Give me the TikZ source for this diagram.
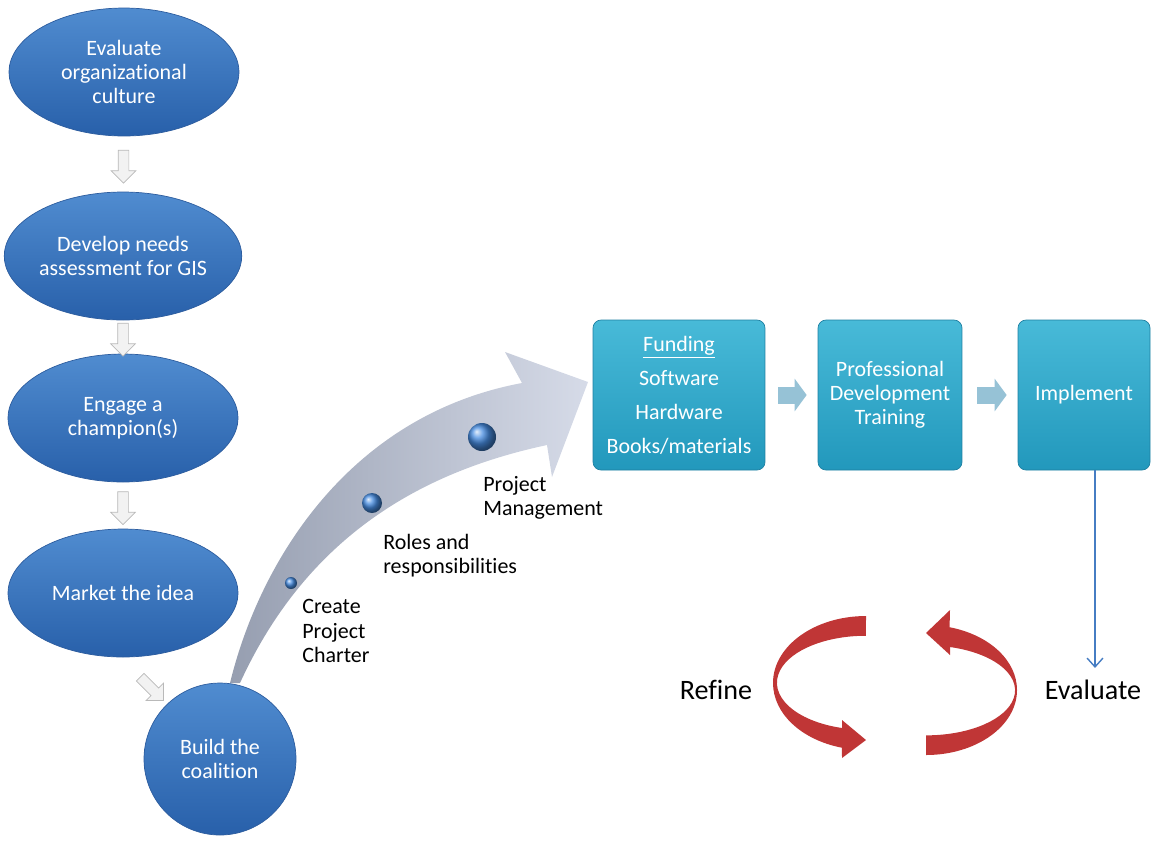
\documentclass[tikz,border=0pt]{standalone}
\usepackage{fontspec}
\setmainfont{Carlito}[Ligatures=NoCommon]
\usetikzlibrary{shapes.geometric,shapes.arrows,arrows.meta}

\definecolor{ovaltop}{RGB}{80,140,208}
\definecolor{ovalbot}{RGB}{40,96,170}
\definecolor{ovaledge}{RGB}{44,92,158}
\definecolor{boxtop}{RGB}{72,186,216}
\definecolor{boxbot}{RGB}{34,152,188}
\definecolor{boxedge}{RGB}{30,128,162}
\definecolor{stepblue}{RGB}{150,194,214}
\definecolor{arrowdark}{RGB}{150,158,176}
\definecolor{arrowlight}{RGB}{214,219,232}
\definecolor{dotblue}{RGB}{70,140,225}
\definecolor{ribbonred}{RGB}{192,54,54}
\definecolor{evalblue}{RGB}{70,125,195}

\tikzset{
  oval/.style={ellipse, top color=ovaltop, bottom color=ovalbot, draw=ovaledge,
    text=white, align=center, inner sep=0pt, minimum width=4.6cm, minimum height=2.56cm,
    font=\fontsize{12.5}{13.7}\selectfont},
  coal/.style={oval, circle, minimum size=3.04cm},
  downarr/.style={single arrow, draw=gray!55, fill=gray!10, minimum height=0.66cm,
    inner sep=0.1cm, single arrow head extend=0.14cm, rotate=-90},
  tealbox/.style={rectangle, rounded corners=0.16cm, top color=boxtop, bottom color=boxbot,
    draw=boxedge, text=white, align=center, minimum height=3cm,
    font=\fontsize{12.5}{13.7}\selectfont},
  boxarrow/.style={draw=stepblue, line width=0.34cm, -{Triangle[length=0.24cm, width=0.64cm]}},
  dot/.style={circle, shading=ball, ball color=dotblue, inner sep=0pt},
  lbl/.style={align=left, inner sep=0pt, anchor=west, font=\fontsize{12.5}{13.7}\selectfont},
  big/.style={font=\fontsize{16}{19}\selectfont},
  ribbon/.style={fill=ribbonred},
  evalarrow/.style={draw=evalblue, line width=0.8pt, -{Straight Barb[length=5pt, width=9pt]}}
}

\begin{document}
\begin{tikzpicture}[x=0.02cm, y=0.02cm]
\useasboundingbox (0,0) rectangle (1155,-840);

% curved arrow from the coalition to the funding box
\shade[left color=arrowdark, right color=arrowlight] (230,-683) .. controls (260,-560) and (350,-415) .. (522,-383)
  -- (505,-352) -- (588,-382) -- (552,-477) -- (547,-445)
  .. controls (430,-470) and (310,-530) .. (240,-683) -- cycle;

\node[dot, minimum size=0.24cm] (d1) at (291,-583) {};
\node[dot, minimum size=0.40cm] (d2) at (372,-503) {};
\node[dot, minimum size=0.56cm] (d3) at (482,-437) {};

% left column
\node[oval] (cult) at (124,-72) {Evaluate\\organizational\\culture};
\node[oval] (need) at (123,-256) {Develop needs\\assessment for GIS};
\node[oval] (champ) at (123,-418) {Engage a\\champion(s)};
\node[oval] (market) at (123,-593) {Market the idea};
\node[coal] (coal) at (220,-759) {Build the\\coalition};

\path (cult) -- (need) node[midway, downarr] (a1) {};
\path (need) -- (champ) node[midway, downarr] (a2) {};
\path (champ) -- (market) node[midway, downarr] (a3) {};
\node[downarr, rotate=45] (a4) at (150,-687) {}; %market-coal

% labels on the curved arrow
\node[lbl] (charter) at (302,-631) {Create\\Project\\Charter};
\node[lbl] (roles) at (383,-555.5) {Roles and\\responsibilities};
\node[lbl] (pm) at (483,-497.5) {Project\\Management};

% boxes
\node[tealbox, minimum width=3.44cm, font=\fontsize{12.5}{19.35}\selectfont] (fund) at (679,-395)
  {\underline{Funding}\\Software\\Hardware\\Books/materials};
\node[tealbox, minimum width=2.88cm] (prof) at (890,-395) {Professional\\Development\\Training};
\node[tealbox, minimum width=2.64cm] (impl) at (1084,-395) {Implement};

\draw[boxarrow] ([xshift=0.26cm]fund.east) -- ([xshift=-0.22cm]prof.west);
\draw[boxarrow] ([xshift=0.3cm]prof.east) -- ([xshift=-0.22cm]impl.west);

% refine / evaluate cycle
\node[big] (refine) at (716,-690) {Refine};
\node[big] (eval) at (1093,-690) {Evaluate};

\draw[evalarrow, shorten >=0.12cm] ([xshift=0.04cm]eval.north |- impl.south) -- ([xshift=0.04cm]eval.north);

\fill[ribbon] (866,-616) arc[start angle=90, end angle=255, x radius=93, y radius=67]
  -- (842,-758) -- (866,-740) -- (842,-720) -- (842,-728)
  arc[start angle=254.4, end angle=90, x radius=89, y radius=47] -- cycle; %refine side
\fill[ribbon] (926,-755) arc[start angle=-90, end angle=75, x radius=91, y radius=65]
  -- (950,-610) -- (926,-633) -- (950,-655) -- (950,-647)
  arc[start angle=74.4, end angle=-90, x radius=89, y radius=45] -- cycle; %evaluate side

\end{tikzpicture}
\end{document}
